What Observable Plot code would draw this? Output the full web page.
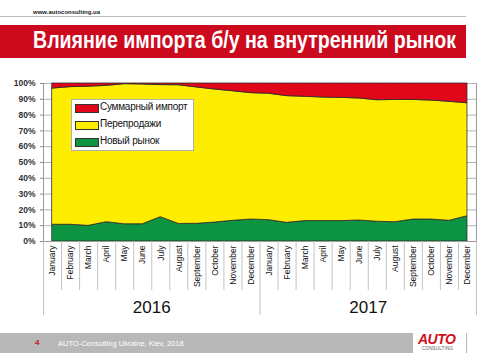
<!DOCTYPE html>
<html><head><meta charset="utf-8">
<script src="https://cdn.jsdelivr.net/npm/d3@7"></script>
<script src="https://cdn.jsdelivr.net/npm/@observablehq/plot@0.6"></script>
<style>
html,body{margin:0;padding:0;background:#fff;}
#wrap{position:relative;width:500px;height:353px;overflow:hidden;font-family:"Liberation Sans",Arial,sans-serif;}
#chart{position:absolute;left:0;top:0;}
.abs{position:absolute;}
#url{left:33px;top:9px;font-size:6px;font-weight:bold;color:#222;}
#hline{left:0;top:16px;width:466px;height:1px;background:#bdbdbd;}
#band{left:0;top:25px;width:466px;height:33px;background:#cc0a1e;}
#title{left:33px;top:27px;font-size:23px;font-weight:bold;color:#fff;white-space:nowrap;transform-origin:0 0;}
#legend{left:71px;top:99px;width:121px;height:50px;background:#fff;border:1px solid #b0b0b0;}
.sw{position:absolute;left:3px;width:22px;height:7px;border:1px solid #333;}
.lt{position:absolute;left:28px;font-size:10px;color:#111;white-space:nowrap;letter-spacing:-0.25px;}
#foot{left:0;top:333px;width:467px;height:20px;background:#b8b8b8;}
#pg{left:35px;top:338px;font-size:8px;font-weight:bold;color:#d0101e;}
#ft{left:58px;top:339px;font-size:7.5px;color:#fff;white-space:nowrap;}
#logo{left:413px;top:333px;width:53px;height:20px;background:#fff;}
#logo1{left:418px;top:331px;font-size:14px;font-weight:bold;font-style:italic;color:#d0101e;letter-spacing:-0.5px;}
#logo2{left:422px;top:346px;font-size:4.5px;color:#555;letter-spacing:0.2px;}
</style></head>
<body>
<div id="wrap">
<div id="chart"></div>
<div class="abs" id="url">www.autoconsulting.ua</div>
<div class="abs" id="hline"></div>
<div class="abs" id="band"></div>
<div class="abs" id="title">Влияние импорта б/у на внутренний рынок</div>
<div class="abs" id="legend"></div>
<div class="abs" id="foot"></div>
<div class="abs" id="pg">4</div>
<div class="abs" id="ft">AUTO-Consulting Ukraine, Kiev, 2018</div>
<div class="abs" id="logo"></div>
<div class="abs" id="logo1">AUTO</div>
<div class="abs" id="logo2">CONSULTING</div>
</div>
<script>
const months = ["January","February","March","April","May","June","July","August","September","October","November","December",
"January","February","March","April","May","June","July","August","September","October","November","December"];
const years = ["2016","2017"];
const seriesNames = ["Новый рынок","Перепродажи","Суммарный импорт"];
const seriesColors = ["#0c9443","#ffed00","#e2061b"];
// shares in %
const newMarket = [10.6,10.6,9.9,12.2,10.9,10.9,15.4,11.1,11.2,12.0,13.1,13.9, 13.5,11.8,12.9,12.9,12.9,13.3,12.5,12.2,13.9,13.9,13.1,16.0];
const resales   = [86.2,87.1,88.1,86.3,88.7,88.5,83.6,87.8,86.3,84.2,82.0,80.0, 80.0,80.2,78.7,78.2,78.0,77.2,76.9,77.4,75.7,75.3,75.3,71.5];
const totalImport = [3.2,2.3,2.0,1.5,0.4,0.6,1.0,1.1,2.5,3.8,4.9,6.1, 6.5,8.0,8.4,8.9,9.1,9.5,10.6,10.4,10.4,10.8,11.6,12.5];
const yTicks = [0,0.1,0.2,0.3,0.4,0.5,0.6,0.7,0.8,0.9,1.0];

const seriesValues = [newMarket, resales, totalImport];
const rows = [];
seriesNames.forEach((s, k) => seriesValues[k].forEach((v, i) => rows.push({i, s, v: v / 100})));
const monthRows = months.map((m, i) => ({i, m}));
const bounds = d3.range(25).map(k => k - 0.5);
const yearRows = years.map((y, k) => ({x: 5.5 + 12 * k, y}));

const plot = Plot.plot({
  width: 500, height: 353,
  marginTop: 83, marginBottom: 112, marginLeft: 43, marginRight: 24,
  x: {type: "linear", domain: [-0.5, 23.5], axis: null},
  y: {domain: [0, 1], axis: null},
  color: {domain: seriesNames, range: seriesColors},
  style: {fontFamily: "'Liberation Sans', Arial, sans-serif", background: "transparent"},
  marks: [
    Plot.ruleY(yTicks, {x1: -0.5, x2: 23.5, stroke: "#b4b4b4", strokeWidth: 1}),
    Plot.areaY(rows, {x: "i", y: "v", z: "s", fill: "s", stroke: "#2a2a2a", strokeWidth: 0.8, curve: "linear"}),
    Plot.ruleX([-0.5, 23.5], {y1: 0, y2: 1, stroke: "#9a9a9a"}),
    Plot.ruleY([0], {x1: -0.5, x2: 23.5, stroke: "#9a9a9a"}),
    Plot.axisY(yTicks, {tickFormat: d => Math.round(d * 100) + "%", tickSize: 3, tickPadding: 5, fontSize: 8.5, fontWeight: "bold", fill: "#333", stroke: "#888", label: null}),
    Plot.ruleX(bounds, {y1: 0, y2: d => (Math.abs(d - 11.5) < 1e-9 || d < 0 || d > 23) ? -0.47 : -0.31, stroke: "#c4c4c4"}),
    Plot.text(monthRows, {x: "i", y: 0, text: "m", rotate: -90, textAnchor: "end", dy: 4, fontSize: 8.5, fill: "#111"}),
    Plot.text(yearRows, {x: "x", y: 0, text: "y", dy: 66, fontSize: 17, fill: "#111"})
  ]
});
document.getElementById("chart").appendChild(plot);

// legend (top entry first)
const lg = document.getElementById("legend");
[2, 1, 0].forEach((k, r) => {
  const sw = document.createElement("div");
  sw.className = "sw"; sw.style.top = (4 + r * 17) + "px"; sw.style.background = seriesColors[k];
  const t = document.createElement("div");
  t.className = "lt"; t.style.top = (1 + r * 17) + "px"; t.textContent = seriesNames[k];
  lg.appendChild(sw); lg.appendChild(t);
});
// fit condensed title
const title = document.getElementById("title");
const w = title.getBoundingClientRect().width;
title.style.transform = `scaleX(${423 / w})`;
</script>
</body></html>
